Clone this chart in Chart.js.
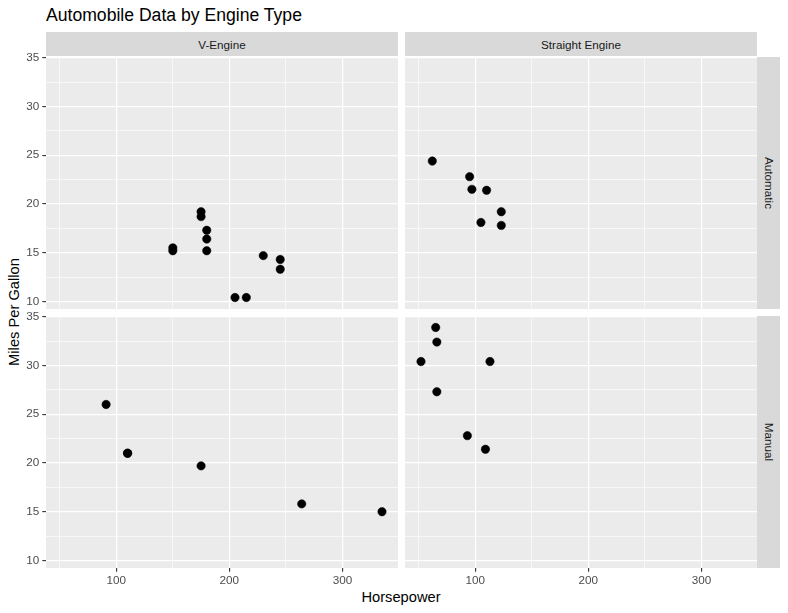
<!DOCTYPE html>
<html lang="en">
<head>
  <meta charset="UTF-8" />
  <title>Automobile Data by Engine Type</title>
  <script src="https://cdn.jsdelivr.net/npm/chart.js"></script>
  <style>
    body { margin: 0; background: #fff; font-family: "Liberation Sans", Arial, sans-serif; }
    #wrap { position: relative; width: 788px; height: 613px; overflow: hidden; }
    .abs { position: absolute; }
    canvas { position: absolute; }
    .strip { position: absolute; background: #D9D9D9; color: #1A1A1A; font-size: 11.7px; }
    .strip span { position: absolute; left: 50%; top: 50%; white-space: nowrap; }
  </style>
</head>
<body>
  <div id="wrap">
    <div class="abs" style="left:46px; top:7px; font-size:17.6px; line-height:17.6px; color:#000;">Automobile Data by Engine Type</div>

    <div class="strip" style="left:46px; top:32px; width:352px; height:24px;"><span style="transform:translate(-50%,-50%)">V-Engine</span></div>
    <div class="strip" style="left:405px; top:32px; width:352px; height:24px;"><span style="transform:translate(-50%,-50%)">Straight Engine</span></div>
    <div class="strip" style="left:757px; top:57px; width:23px; height:252px;"><span style="transform:translate(-50%,-50%) rotate(90deg)">Automatic</span></div>
    <div class="strip" style="left:757px; top:316px; width:23px; height:252px;"><span style="transform:translate(-50%,-50%) rotate(90deg)">Manual</span></div>

    <div class="abs" style="left:401px; top:597px; transform:translate(-50%,-50%); font-size:14.7px; white-space:nowrap;">Horsepower</div>
    <div class="abs" style="left:14px; top:312px; transform:translate(-50%,-50%) rotate(-90deg); font-size:14.7px; white-space:nowrap;">Miles Per Gallon</div>
  </div>

  <script>
    // mtcars split by engine shape (vs) and transmission (am)
    const vAutoHp = [175, 245, 180, 180, 180, 205, 215, 230, 150, 150, 245, 175];
    const vAutoMpg = [18.7, 14.3, 16.4, 17.3, 15.2, 10.4, 10.4, 14.7, 15.5, 15.2, 13.3, 19.2];
    const sAutoHp = [110, 105, 62, 95, 123, 123, 97];
    const sAutoMpg = [21.4, 18.1, 24.4, 22.8, 19.2, 17.8, 21.5];
    const vManHp = [110, 110, 91, 264, 175, 335];
    const vManMpg = [21.0, 21.0, 26.0, 15.8, 19.7, 15.0];
    const sManHp = [93, 66, 52, 65, 66, 113, 109];
    const sManMpg = [22.8, 32.4, 30.4, 33.9, 27.3, 30.4, 21.4];

    const xTicks = [50, 100, 150, 200, 250, 300];
    const xMajor = [100, 200, 300];
    const yTicks = [10, 12.5, 15, 17.5, 20, 22.5, 25, 27.5, 30, 32.5, 35];
    const yMajor = [10, 15, 20, 25, 30, 35];

    const X_MIN = 37.85, X_MAX = 349.15;
    const Y_MIN = 9.225, Y_MAX = 35.075;

    const panelBg = {
      id: 'panelBg',
      beforeDraw(chart) {
        const a = chart.chartArea, c = chart.ctx;
        c.save();
        c.fillStyle = '#EBEBEB';
        c.fillRect(a.left, a.top, a.right - a.left, a.bottom - a.top);
        c.restore();
      }
    };

    function noPad(s) {
      s.paddingTop = 0; s.paddingBottom = 0;
      s.paddingLeft = 0; s.paddingRight = 0;
    }

    function makePanel(hp, mpg, left, top, showY, showX) {
      const padL = showY ? 46 : 0;
      const padB = showX ? 28 : 0;
      const padT = 8;
      const w = 352 + padL, h = 252 + padB + padT;
      const cv = document.createElement('canvas');
      cv.width = w; cv.height = h;
      cv.style.left = (left - padL) + 'px';
      cv.style.top = (top - padT) + 'px';
      cv.style.width = w + 'px'; cv.style.height = h + 'px';
      document.getElementById('wrap').appendChild(cv);

      const gridOpts = (major, show) => ({
        color: '#FFFFFF',
        lineWidth: ctx => major.includes(ctx.tick.value) ? 1.2 : 0.6,
        drawTicks: show,
        tickLength: 3.7,
        tickColor: ctx => major.includes(ctx.tick.value) ? '#333333' : 'rgba(0,0,0,0)',
        tickWidth: 1.1
      });
      const tickFont = { family: '"Liberation Sans", Arial, sans-serif', size: 11.7 };

      new Chart(cv.getContext('2d'), {
        type: 'scatter',
        data: {
          datasets: [{
            data: hp.map((v, i) => ({ x: v, y: mpg[i] })),
            backgroundColor: '#000',
            borderColor: '#000',
            borderWidth: 0.5,
            pointRadius: 4.2
          }]
        },
        options: {
          responsive: false,
          animation: false,
          events: [],
          layout: { padding: { top: padT, left: 0, right: 0, bottom: 0 }, autoPadding: false },
          plugins: { legend: { display: false }, tooltip: { enabled: false } },
          scales: {
            x: {
              type: 'linear',
              min: X_MIN, max: X_MAX,
              afterBuildTicks: s => { s.ticks = xTicks.map(v => ({ value: v })); },
              afterFit: s => { s.height = padB; noPad(s); },
              border: { display: false },
              grid: gridOpts(xMajor, showX),
              ticks: {
                display: showX,
                color: '#4D4D4D',
                font: tickFont,
                padding: 2,
                maxRotation: 0,
                autoSkip: false,
                callback: v => xMajor.includes(v) ? String(v) : ''
              }
            },
            y: {
              type: 'linear',
              min: Y_MIN, max: Y_MAX,
              afterBuildTicks: s => { s.ticks = yTicks.map(v => ({ value: v })); },
              afterFit: s => { s.width = padL; noPad(s); },
              border: { display: false },
              grid: gridOpts(yMajor, showY),
              ticks: {
                display: showY,
                color: '#4D4D4D',
                font: tickFont,
                padding: 3,
                autoSkip: false,
                callback: v => yMajor.includes(v) ? String(v) : ''
              }
            }
          }
        },
        plugins: [panelBg]
      });
    }

    makePanel(vAutoHp, vAutoMpg, 46, 57, true, false);
    makePanel(sAutoHp, sAutoMpg, 405, 57, false, false);
    makePanel(vManHp, vManMpg, 46, 316, true, true);
    makePanel(sManHp, sManMpg, 405, 316, false, true);
  </script>
</body>
</html>
